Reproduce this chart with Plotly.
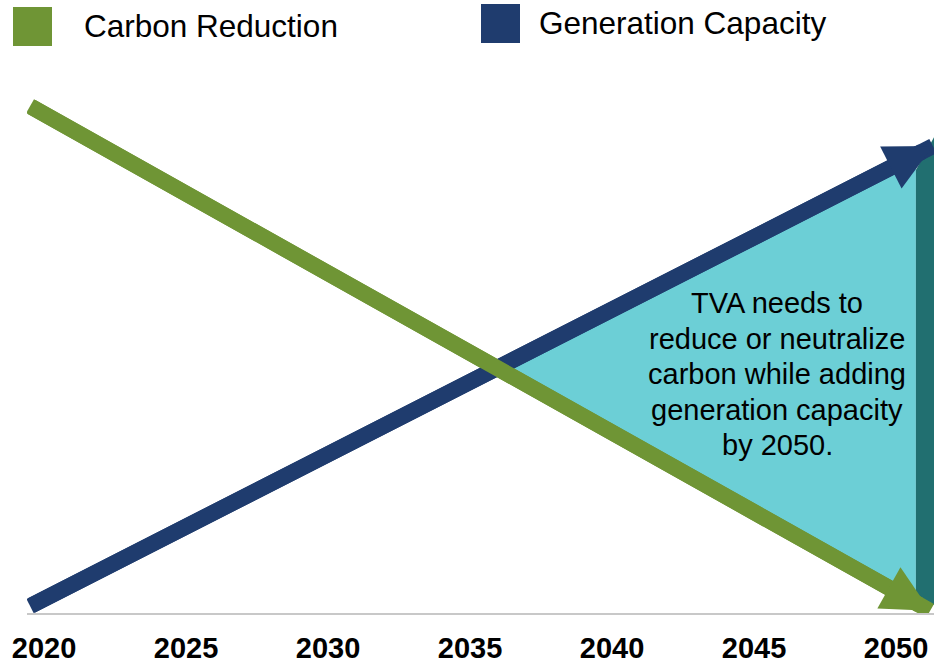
import numpy as np
import plotly.graph_objects as go

# ---------------- data ----------------
tick_years = [2020, 2025, 2030, 2035, 2040, 2045, 2050]
tick_labels = ["2020", "2025", "2030", "2035", "2040", "2045", "2050"]

series_names = ["Carbon Reduction", "Generation Capacity"]

carbon_years = [2019.51, 2051.20]
carbon_values = [95.1, 0.4]

capacity_years = [2019.51, 2051.30]
capacity_values = [1.3, 87.6]

# 2050 target band (dark teal bar at the right edge)
target_band_years = [2050.70, 2051.34]
target_band_top = [83.1, 89.3]
target_band_bottom = [3.4, 1.5]

note_lines = ["TVA needs to", "reduce or neutralize", "carbon while adding",
              "generation capacity", "by 2050."]
note_year = 2045.81
note_value = 44.8

# ---------------- styles ----------------
GREEN = "#6f9535"
BLUE = "#1f3c6e"
CYAN = "#6ccfd6"
TEAL = "#216f70"
AXIS_GRAY = "#c8c8c8"
FONT = "Liberation Sans, Arial, sans-serif"

W, H = 934, 663
ML, MR, MT, MB = 27, 0, 80, 50
PW, PH = W - ML - MR, H - MT - MB


def paper_x(px):
    return (px - ML) / PW


def paper_y(py):
    return (H - MB - py) / PH


def line_fn(xs, ys):
    m = (ys[1] - ys[0]) / (xs[1] - xs[0])
    b = ys[0] - m * xs[0]
    return m, b


mc, bc = line_fn(carbon_years, carbon_values)
mg, bg = line_fn(capacity_years, capacity_values)
x_cross = (bg - bc) / (mc - mg)
y_cross = mc * x_cross + bc
x_fill_end = target_band_years[0]

fig = go.Figure()

# cyan region between the two lines, from the crossing to the 2050 band
fig.add_trace(go.Scatter(
    x=[x_cross, x_fill_end, x_fill_end, x_cross],
    y=[y_cross, mg * x_fill_end + bg, mc * x_fill_end + bc, y_cross],
    fill="toself", fillcolor=CYAN, mode="lines", line=dict(width=0),
    hoverinfo="skip", showlegend=False,
))

# 2050 target band
fig.add_trace(go.Scatter(
    x=[target_band_years[0], target_band_years[1], target_band_years[1], target_band_years[0]],
    y=[target_band_top[0], target_band_top[1], target_band_bottom[1], target_band_bottom[0]],
    fill="toself", fillcolor=TEAL, mode="lines", line=dict(width=0),
    hoverinfo="skip", showlegend=False, cliponaxis=False,
))

# series lines
fig.add_trace(go.Scatter(
    x=capacity_years, y=capacity_values, mode="lines", name=series_names[1],
    line=dict(color=BLUE, width=16, backoff=30), showlegend=False,
))
fig.add_trace(go.Scatter(
    x=carbon_years, y=carbon_values, mode="lines", name=series_names[0],
    line=dict(color=GREEN, width=16, backoff=30), showlegend=False,
))

annotations = []
# arrows (shaft + head) drawn over the lines, in data coordinates
for xs, ys, col in [(capacity_years, capacity_values, BLUE),
                    (carbon_years, carbon_values, GREEN)]:
    annotations.append(dict(
        x=xs[1], y=ys[1], ax=xs[0], ay=ys[0],
        xref="x", yref="y", axref="x", ayref="y",
        text=" ", font=dict(size=1), showarrow=True,
        arrowhead=2, arrowsize=0.59, arrowwidth=16, arrowcolor=col, standoff=0,
    ))

# note text
for i, t in enumerate(note_lines):
    annotations.append(dict(
        x=note_year, y=note_value, xref="x", yref="y",
        yshift=(2 - i) * 35.5, text=t, showarrow=False,
        xanchor="center", yanchor="middle",
        font=dict(family=FONT, size=29, color="black"),
    ))

# legend (manual, large square swatches)
legend_items = [
    (series_names[0], GREEN, (13, 52, 7, 46), (82, 26)),
    (series_names[1], BLUE, (481, 520, 4, 43), (537, 23)),
]
shapes = []
for name, col, (x0, x1, y0, y1), (tx, ty) in legend_items:
    shapes.append(dict(type="rect", xref="paper", yref="paper",
                       x0=paper_x(x0), x1=paper_x(x1), y0=paper_y(y1), y1=paper_y(y0),
                       fillcolor=col, line=dict(width=0)))
    annotations.append(dict(
        x=paper_x(tx), y=paper_y(ty), xref="paper", yref="paper",
        text=name, showarrow=False, xanchor="left", yanchor="middle",
        font=dict(family=FONT, size=31.5, color="black"),
    ))

fig.update_layout(
    width=W, height=H,
    margin=dict(l=ML, r=MR, t=MT, b=MB, pad=0, autoexpand=False),
    paper_bgcolor="white", plot_bgcolor="white",
    showlegend=False,
    xaxis=dict(
        range=[2020 - 17 / 28.4, 2050 + 38 / 28.4],
        tickmode="array", tickvals=tick_years, ticktext=tick_labels,
        tickfont=dict(family=FONT, size=29, color="black", weight="bold"),
        showgrid=False, zeroline=False,
        showline=True, linecolor=AXIS_GRAY, linewidth=2,
        ticks="outside", ticklen=8, tickcolor="rgba(0,0,0,0)",
        automargin=False, fixedrange=True,
    ),
    yaxis=dict(range=[0, 100], visible=False, fixedrange=True, automargin=False),
    annotations=annotations,
    shapes=shapes,
)

fig.write_html(
    "out.html",
    config={"displayModeBar": False},
    post_script="document.body.style.margin='0';document.body.style.overflow='hidden';",
)
